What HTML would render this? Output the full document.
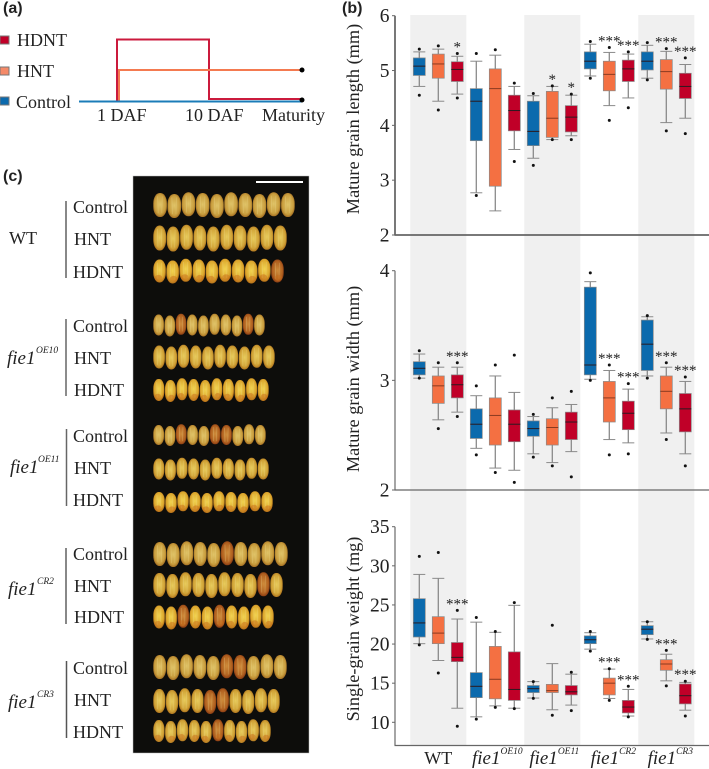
<!DOCTYPE html>
<html lang="en">
<head>
<meta charset="utf-8">
<title>Grain phenotype figure</title>
<style>
html,body{margin:0;padding:0;background:#fff;}
svg{display:block;width:709px;height:769px;}
text{font-family:"Liberation Serif",serif;fill:#222;}
.lab{font-size:18px;}
.pl{font-family:"Liberation Sans",sans-serif;font-size:16px;font-weight:bold;fill:#222;}
.it{font-style:italic;font-size:19px;}
.sup{font-style:italic;font-size:9.5px;}
</style>
</head>
<body>
<svg id="fig" xmlns="http://www.w3.org/2000/svg" width="709" height="769" viewBox="0 0 709 769">
<defs>
<radialGradient id="g-pale" cx="50%" cy="48%" r="58%"><stop offset="0" stop-color="#e0c468"/><stop offset=".7" stop-color="#c99e3e"/><stop offset="1" stop-color="#945a16"/></radialGradient>
<radialGradient id="g-gold" cx="50%" cy="48%" r="58%"><stop offset="0" stop-color="#e8cc5c"/><stop offset=".7" stop-color="#d0a236"/><stop offset="1" stop-color="#a06014"/></radialGradient>
<radialGradient id="g-bright" cx="50%" cy="45%" r="58%"><stop offset="0" stop-color="#f2d450"/><stop offset=".7" stop-color="#dca82e"/><stop offset="1" stop-color="#ac6012"/></radialGradient>
<radialGradient id="g-red" cx="50%" cy="48%" r="58%"><stop offset="0" stop-color="#cf8c3a"/><stop offset=".7" stop-color="#b0601f"/><stop offset="1" stop-color="#7a2c0e"/></radialGradient>
</defs>

<!-- Panel a -->
<g>
<text class="pl" x="3" y="13">(a)</text>
<rect x="0" y="36" width="9" height="8" fill="#c00028" stroke="#777" stroke-width="1"/>
<rect x="0" y="67" width="9" height="8" fill="#f58a68" stroke="#777" stroke-width="1"/>
<rect x="0" y="97" width="9" height="8" fill="#0b6aad" stroke="#777" stroke-width="1"/>
<text class="lab" x="17" y="46">HDNT</text>
<text class="lab" x="17" y="77">HNT</text>
<text class="lab" x="16" y="108">Control</text>
<path d="M117 101V39.500H209V99H302" fill="none" stroke="#cb1a3c" stroke-width="2"/>
<path d="M119 101V70H302" fill="none" stroke="#f47a50" stroke-width="2"/>
<path d="M79 101.500H302" fill="none" stroke="#1b7cb8" stroke-width="2"/>
<circle cx="302" cy="70" r="2.500" fill="#000"/>
<circle cx="302" cy="100" r="2.500" fill="#000"/>
<text class="lab" x="97" y="121">1 DAF</text>
<text class="lab" x="185" y="121">10 DAF</text>
<text class="lab" x="262" y="121">Maturity</text>
</g>

<!-- Panel c -->
<g>
<text class="pl" x="3" y="181">(c)</text>
<rect x="133" y="176" width="176" height="577" fill="#0d0d0b" stroke="#bbb" stroke-width=".5"/>
<rect x="256" y="181" width="47" height="2" fill="#fff"/>
<g id="grains"></g>

<text class="lab" x="9" y="244">WT</text>
<text class="lab it" x="7" y="364">fie1</text><text class="sup" x="36" y="353">OE10</text>
<text class="lab it" x="10" y="473">fie1</text><text class="sup" x="38" y="462">OE11</text>
<text class="lab it" x="8" y="595">fie1</text><text class="sup" x="37" y="584">CR2</text>
<text class="lab it" x="8" y="708">fie1</text><text class="sup" x="37" y="697">CR3</text>

<g stroke="#888">
<line x1="66" x2="66" y1="201" y2="278" stroke-width="2"/>
<line x1="66" x2="66" y1="319" y2="396" stroke="#666" stroke-width="1.500"/>
<line x1="66.500" x2="66.500" y1="429" y2="506" stroke="#666" stroke-width="1.500"/>
<line x1="66" x2="66" y1="548" y2="624" stroke-width="2"/>
<line x1="66.500" x2="66.500" y1="661" y2="738" stroke="#555" stroke-width="1.500"/>
</g>

<text class="lab" x="73" y="213">Control</text>
<text class="lab" x="74" y="245">HNT</text>
<text class="lab" x="73" y="278">HDNT</text>
<text class="lab" x="73" y="332">Control</text>
<text class="lab" x="74" y="364">HNT</text>
<text class="lab" x="74" y="396">HDNT</text>
<text class="lab" x="73" y="442">Control</text>
<text class="lab" x="74" y="474">HNT</text>
<text class="lab" x="73" y="506">HDNT</text>
<text class="lab" x="73" y="560">Control</text>
<text class="lab" x="74" y="592">HNT</text>
<text class="lab" x="74" y="623">HDNT</text>
<text class="lab" x="73" y="674">Control</text>
<text class="lab" x="74" y="706">HNT</text>
<text class="lab" x="73" y="738">HDNT</text>
</g>

<!-- Panel b -->
<g id="panelB">
<text class="pl" x="342" y="13">(b)</text>
</g>
</svg>

<script>
/* ---------- chart data ---------- */
const categories = ['WT', 'fie1', 'fie1', 'fie1', 'fie1'];
const categorySup = ['', 'OE10', 'OE11', 'CR2', 'CR3'];
const treatments = ['Control', 'HNT', 'HDNT'];
const treatmentColors = ['#0b6aad', '#f47042', '#c00028'];

const lengthTicks = [2, 3, 4, 5, 6];
const lengthOutHigh = [5.39, 5.45, 5.31, 5.31, 5.38, 4.77, 4.58, 4.72, 4.57, 5.53, 5.42, 5.34, 5.51, 5.40, 5.23];
const lengthWhiskHigh = [5.34, 5.39, 5.26, 5.17, 5.28, 4.71, 4.54, 4.71, 4.55, 5.48, 5.33, 5.30, 5.46, 5.35, 5.11];
const lengthQ3 = [5.23, 5.30, 5.16, 4.67, 5.03, 4.55, 4.44, 4.62, 4.36, 5.34, 5.17, 5.19, 5.34, 5.20, 4.95];
const lengthMedian = [5.08, 5.12, 5.02, 4.44, 4.67, 4.27, 3.89, 4.13, 4.15, 5.17, 4.93, 5.03, 5.17, 4.98, 4.71];
const lengthQ1 = [4.91, 4.86, 4.80, 3.72, 2.89, 3.90, 3.63, 3.78, 3.88, 5.03, 4.63, 4.80, 5.01, 4.66, 4.49];
const lengthWhiskLow = [4.71, 4.44, 4.57, 2.77, 2.44, 3.56, 3.40, 3.74, 3.81, 4.90, 4.36, 4.50, 4.86, 4.05, 4.13];
const lengthOutLow = [4.55, 4.28, 4.50, 2.72, null, 3.34, 3.27, 3.74, 3.74, 4.86, 4.09, 4.32, 4.83, 3.90, 3.85];
const lengthStars = ['', '', '*', '', '', '', '', '*', '*', '', '***', '***', '', '***', '***'];

const widthTicks = [2, 3, 4];
const widthOutHigh = [3.27, 3.16, 3.16, 2.95, 3.14, 3.23, 2.69, 2.84, 2.90, 3.98, 3.14, 2.97, 3.59, 3.16, 3.03];
const widthWhiskHigh = [3.24, 3.12, 3.12, 2.86, 3.04, 2.89, 2.67, 2.75, 2.78, 3.90, 3.09, 2.92, 3.58, 3.12, 2.99];
const widthQ3 = [3.17, 3.04, 3.05, 2.74, 2.84, 2.73, 2.63, 2.65, 2.71, 3.85, 2.99, 2.81, 3.55, 3.04, 2.88];
const widthMedian = [3.11, 2.95, 2.96, 2.60, 2.68, 2.60, 2.56, 2.57, 2.62, 3.14, 2.84, 2.70, 3.33, 2.90, 2.74];
const widthQ1 = [3.05, 2.79, 2.84, 2.47, 2.41, 2.44, 2.49, 2.41, 2.46, 3.05, 2.62, 2.55, 3.09, 2.74, 2.53];
const widthWhiskLow = [3.02, 2.64, 2.71, 2.38, 2.20, 2.18, 2.33, 2.25, 2.35, 3.01, 2.46, 2.43, 3.04, 2.52, 2.33];
const widthOutLow = [3.02, 2.56, 2.67, 2.32, 2.16, 2.07, 2.30, 2.22, 2.12, 3.00, 2.32, 2.33, 3.02, 2.46, 2.22];
const widthStars = ['', '', '***', '', '', '', '', '', '', '', '***', '***', '', '***', '***'];

const weightTicks = [10, 15, 20, 25, 30, 35];
const weightOutHigh = [31.2, 31.7, 24.3, 23.4, 21.6, 25.3, 15.2, 22.4, 16.4, 21.6, 16.85, 14.6, 22.85, 19.2, 15.25];
const weightWhiskHigh = [28.9, 28.4, 23.2, 22.8, 21.5, 24.95, 15.2, 17.5, 16.15, 21.45, 16.8, 14.2, 22.85, 18.7, 15.1];
const weightQ3 = [25.8, 23.5, 20.2, 16.35, 19.7, 19.0, 14.7, 14.85, 14.7, 21.05, 15.65, 12.8, 22.35, 18.0, 14.9];
const weightMedian = [22.7, 21.4, 18.3, 14.6, 15.5, 14.2, 14.3, 14.05, 13.9, 20.55, 15.0, 11.95, 21.9, 17.45, 13.4];
const weightQ1 = [20.9, 20.05, 17.75, 13.15, 13.0, 12.8, 13.8, 13.8, 13.5, 20.05, 13.5, 11.2, 21.2, 16.65, 12.35];
const weightWhiskLow = [20.05, 17.9, 11.8, 10.7, 12.1, 11.8, 13.1, 11.6, 12.2, 19.35, 13.05, 10.8, 20.65, 15.3, 11.55];
const weightOutLow = [19.9, 16.3, 9.5, 10.4, 11.9, 11.75, 13.05, 10.9, 11.5, 19.1, 12.8, 10.7, 20.6, 14.65, 10.8];
const weightStars = ['', '', '***', '', '', '', '', '', '', '', '***', '***', '', '***', '***'];

/* ---------- helpers ---------- */
const SVGNS = 'http://www.w3.org/2000/svg';
function mk(tag, attrs, parent) {
  const e = document.createElementNS(SVGNS, tag);
  for (const k in attrs) e.setAttribute(k, attrs[k]);
  parent.appendChild(e);
  return e;
}
const panelB = document.getElementById('panelB');

/* x axis function: box index to pixel centre */
function xBox(i) { return 419.3 + 19 * i; }
function xGroup(g) { return xBox(g * 3 + 1); }
function linearY(vTop, pxTop, vBottom, pxBottom) {
  return v => pxTop + (vTop - v) * (pxBottom - pxTop) / (vTop - vBottom);
}

/* grey group bands */
const bandsG = mk('g', {}, panelB);


[0, 2, 4].forEach(g => {
  const band = mk('rect', { x: xGroup(g) - 28, y: 15, width: 56, height: 730, fill: '#f0f0f0' }, bandsG);
  
  
});

function drawPanel(cfg) {
  const g = mk('g', {}, panelB);
  
  
  const y = cfg.y;

  /* axes */
  const yAxis = mk('line', { x1: 395, x2: 395, y1: y(cfg.ticks[cfg.ticks.length - 1]), y2: cfg.axisY, stroke: '#6a6a6a', 'stroke-width': cfg.axisW }, g);
  
  
  const xAxis = mk('line', { x1: 394.5, x2: 709, y1: cfg.axisY, y2: cfg.axisY, stroke: '#666', 'stroke-width': cfg.axisW }, g);
  
  

  cfg.ticks.forEach(t => {
    const tick = mk('line', { x1: 392, x2: 395, y1: y(t), y2: y(t), stroke: '#666', 'stroke-width': 1 }, g);
    
    
    const lab = mk('text', { x: 389.5, y: y(t) + 6.5, 'text-anchor': 'end', 'font-size': 19.5 }, g);
    
    
    lab.textContent = t;
  });

  const title = mk('text', { transform: 'translate(359,' + cfg.titleY + ') rotate(-90)', 'text-anchor': 'middle', 'font-size': 18.3 }, g);
  
  
  title.textContent = cfg.title;

  /* boxes */
  cfg.median.forEach((m, i) => {
    const cx = xBox(i);
    const col = treatmentColors[i % 3];
    const bg = mk('g', {}, g);
    
    

    mk('line', { x1: cx, x2: cx, y1: y(cfg.whiskHigh[i]), y2: y(cfg.whiskLow[i]), stroke: '#8a8a8a', 'stroke-width': 1.3 }, bg);
    mk('line', { x1: cx - 6, x2: cx + 6, y1: y(cfg.whiskHigh[i]), y2: y(cfg.whiskHigh[i]), stroke: '#8a8a8a', 'stroke-width': 1 }, bg);
    mk('line', { x1: cx - 6, x2: cx + 6, y1: y(cfg.whiskLow[i]), y2: y(cfg.whiskLow[i]), stroke: '#8a8a8a', 'stroke-width': 1 }, bg);
    mk('rect', { x: cx - 6, y: y(cfg.q3[i]), width: 12, height: y(cfg.q1[i]) - y(cfg.q3[i]), fill: col, stroke: '#8a8a8a', 'stroke-width': .7 }, bg);
    mk('line', { x1: cx - 6, x2: cx + 6, y1: y(m), y2: y(m), stroke: i % 3 === 1 ? '#8a3a20' : '#2a1a20', 'stroke-width': 1 }, bg);

    if (cfg.outHigh[i] !== null) mk('circle', { cx: cx, cy: y(cfg.outHigh[i]), r: 1.5, fill: '#111' }, bg);
    if (cfg.outLow[i] !== null) mk('circle', { cx: cx, cy: y(cfg.outLow[i]), r: 1.5, fill: '#111' }, bg);

    if (cfg.stars[i]) {
      const s = mk('text', { x: cx, y: y(cfg.outHigh[i]) - 2, 'text-anchor': 'middle', 'font-size': 15 }, g);
      
      
      s.textContent = cfg.stars[i];
    }
  });
}

drawPanel({
  name: 'grain-length', title: 'Mature grain length (mm)', ticks: lengthTicks, titleY: 119,
  y: linearY(6, 15.7, 2, 235), axisY: 235, axisW: 1.8,
  outHigh: lengthOutHigh, whiskHigh: lengthWhiskHigh, q3: lengthQ3, median: lengthMedian,
  q1: lengthQ1, whiskLow: lengthWhiskLow, outLow: lengthOutLow, stars: lengthStars
});
drawPanel({
  name: 'grain-width', title: 'Mature grain width (mm)', ticks: widthTicks, titleY: 379,
  y: linearY(4, 270.7, 2, 490), axisY: 490, axisW: 1.2,
  outHigh: widthOutHigh, whiskHigh: widthWhiskHigh, q3: widthQ3, median: widthMedian,
  q1: widthQ1, whiskLow: widthWhiskLow, outLow: widthOutLow, stars: widthStars
});
drawPanel({
  name: 'grain-weight', title: 'Single-grain weight (mg)', ticks: weightTicks, titleY: 629,
  y: linearY(35, 526.7, 10, 722.3), axisY: 745.5, axisW: 1.2,
  outHigh: weightOutHigh, whiskHigh: weightWhiskHigh, q3: weightQ3, median: weightMedian,
  q1: weightQ1, whiskLow: weightWhiskLow, outLow: weightOutLow, stars: weightStars
});

/* genotype labels under x axis */
categories.forEach((c, g) => {
  const t = mk('text', { x: xGroup(g) + (g === 0 ? 0 : g < 3 ? 2 : 4), y: 764, 'text-anchor': 'middle', 'font-size': g === 0 ? 18 : 19 }, panelB);
  
  
  const main = mk('tspan', g === 0 ? {} : { 'font-style': 'italic' }, t);
  main.textContent = c;
  if (categorySup[g]) {
    const sup = mk('tspan', { dy: -10, 'font-size': 9.5, 'font-style': 'italic' }, t);
    sup.textContent = categorySup[g];
  }
});

/* ---------- grain photo (layout of seed rows: centre y, left, right, height, fill, reddish grains, patch) ---------- */
const grainLayout = [
  [205, 153, 295, 24, 'g-pale', [], 0],
  [238, 153, 287, 25, 'g-gold', [], 0],
  [271, 153, 284, 23, 'g-bright', [9], 1],
  [325, 153, 265, 21, 'g-pale', [2, 8], 0],
  [357, 153, 275, 23, 'g-gold', [], 0],
  [390, 153, 269, 22, 'g-bright', [], 1],
  [435, 153, 266, 20, 'g-pale', [2, 5, 6], 0],
  [469, 153, 269, 21, 'g-gold', [], 0],
  [502, 153, 273, 20, 'g-bright', [], 1],
  [554, 153, 288, 24, 'g-pale', [5], 0],
  [585, 153, 283, 24, 'g-gold', [8], 0],
  [617, 153, 274, 23, 'g-bright', [2, 5], 1],
  [667, 153, 287, 24, 'g-pale', [5, 6], 0],
  [701, 153, 280, 24, 'g-gold', [4, 5], 0],
  [731, 153, 271, 22, 'g-gold', [5], 1]
];
const grainsRoot = document.getElementById('grains');
grainLayout.forEach(row => {
  const rg = mk('g', {}, grainsRoot);
  
  
  const n = 10;
  const step = (row[2] - row[1]) / n;
  const w = step - .6;
  const h = row[3];
  for (let k = 0; k < n; k++) {
    const fill = row[5].indexOf(k) >= 0 ? 'g-red' : row[4];
    const cx = row[1] + step * (k + .5);
    const cy = row[0] + (k % 3 === 1 ? 1 : k % 3 === 2 ? -.7 : 0);
    const grain = mk('rect', {
      x: cx - w / 2, y: cy - h / 2, width: w, height: h,
      rx: w * .47, ry: h * .42,
      fill: 'url(#' + fill + ')'
    }, rg);
    
    

    /* pale husk ridges */
    const ridgeL = mk('line', { x1: cx - w * .18, x2: cx - w * .14, y1: cy - h * .36, y2: cy + h * .34, stroke: '#f6e6a0', 'stroke-width': .8, 'stroke-opacity': .3 }, rg);
    
    
    const ridgeR = mk('line', { x1: cx + w * .16, x2: cx + w * .12, y1: cy - h * .36, y2: cy + h * .34, stroke: '#f6e6a0', 'stroke-width': .8, 'stroke-opacity': .25 }, rg);
    
    

    if (row[6]) {
      const patch = mk('ellipse', { cx: cx + (k % 2 ? 1 : -1), cy: cy + h * .3, rx: w * .3, ry: h * .13, fill: '#c9701c', opacity: .5 }, rg);
      
      
    }
  }
});
</script>
</body>
</html>
